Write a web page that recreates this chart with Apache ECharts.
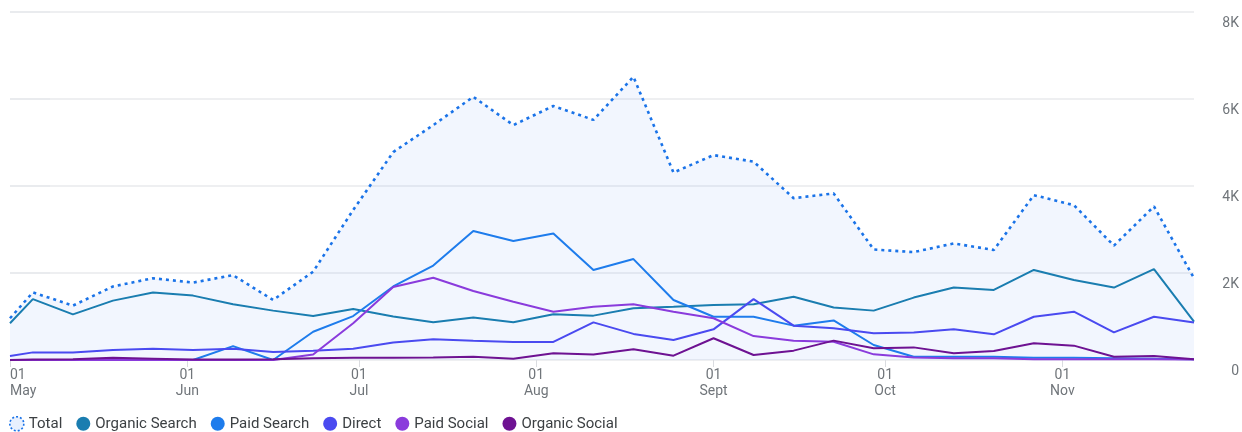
<!DOCTYPE html>
<html>
<head>
<meta charset="utf-8">
<script src="https://cdn.jsdelivr.net/npm/echarts@6/dist/echarts.min.js"></script>
<style>
  html, body { margin: 0; padding: 0; background: #fff; }
  #chart { width: 1242px; height: 432px; }
</style>
</head>
<body>
<div id="chart"></div>
<script>
// weekly points (first one is a partial week)
const dates = [
  '2024-05-01', '2024-05-05', '2024-05-12', '2024-05-19', '2024-05-26',
  '2024-06-02', '2024-06-09', '2024-06-16', '2024-06-23', '2024-06-30',
  '2024-07-07', '2024-07-14', '2024-07-21', '2024-07-28', '2024-08-04',
  '2024-08-11', '2024-08-18', '2024-08-25', '2024-09-01', '2024-09-08',
  '2024-09-15', '2024-09-22', '2024-09-29', '2024-10-06', '2024-10-13',
  '2024-10-20', '2024-10-27', '2024-11-03', '2024-11-10', '2024-11-17',
  '2024-11-24'
];

const total = [
  960, 1555, 1250, 1690, 1880, 1780, 1950, 1380, 2030, 3450,
  4780, 5400, 6050, 5400, 5840, 5520, 6510, 4310, 4710, 4560,
  3720, 3830, 2540, 2480, 2680, 2530, 3790, 3560, 2630, 3530,
  1880
];
const organicSearch = [
  845, 1400, 1050, 1365, 1550, 1480, 1280, 1135, 1010, 1170,
  1000, 870, 975, 870, 1050, 1020, 1190, 1225, 1265, 1280,
  1455, 1205, 1135, 1435, 1665, 1610, 2070, 1840, 1665, 2090,
  880
];
const paidSearch = [
  0, 0, 0, 0, 0, 0, 320, 0, 650, 1010,
  1690, 2170, 2965, 2735, 2910, 2070, 2320, 1380, 995, 995,
  790, 910, 345, 75, 75, 75, 50, 50, 40, 30,
  20
];
const direct = [
  90, 175, 175, 230, 260, 230, 260, 185, 215, 260,
  400, 475, 440, 415, 415, 865, 600, 460, 705, 1400,
  790, 730, 615, 630, 705, 590, 995, 1110, 635, 995,
  860
];
const paidSocial = [
  0, 0, 0, 0, 0, 0, 0, 0, 125, 845,
  1680, 1890, 1585, 1340, 1110, 1225, 1280, 1110, 960, 550,
  440, 420, 130, 55, 40, 40, 20, 20, 15, 15,
  10
];
const organicSocial = [
  0, 10, 20, 50, 30, 10, 10, 20, 40, 50,
  50, 60, 75, 30, 155, 125, 245, 100, 500, 115,
  215, 445, 270, 290, 155, 205, 385, 330, 75, 90,
  15
];

const monthTicks = ['2024-05-01', '2024-06-01', '2024-07-01', '2024-08-01',
  '2024-09-01', '2024-10-01', '2024-11-01'];
const monthNames = ['Jan', 'Feb', 'Mar', 'Apr', 'May', 'Jun', 'Jul', 'Aug', 'Sept', 'Oct', 'Nov', 'Dec'];

const COLORS = {
  total: '#1a73e8',
  organicSearch: '#1a7db0',
  paidSearch: '#1e7cec',
  direct: '#4a4af0',
  paidSocial: '#8a3bdc',
  organicSocial: '#6e1292',
};

// x is "days since first date" on a plain value axis
const DAY = 86400000;
const start = Date.UTC(2024, 4, 1);
function dayOf(s) {
  const [y, m, d] = s.split('-').map(Number);
  return Math.round((Date.UTC(y, m - 1, d) - start) / DAY);
}
function monthLabel(day) {
  const d = new Date(start + day * DAY);
  return '01\n' + monthNames[d.getUTCMonth()];
}

const xs = dates.map(dayOf);
const tickValues = monthTicks.map(dayOf);
const pairs = (arr) => arr.map((v, i) => [xs[i], v]);

function lineSeries(name, data, color) {
  return {
    name,
    type: 'line',
    data: pairs(data),
    symbol: 'none',
    lineStyle: { color, width: 2 },
    itemStyle: { color },
  };
}

const chart = echarts.init(document.getElementById('chart'));

chart.setOption({
  animation: false,
  textStyle: { fontFamily: 'Roboto, "Noto Sans", sans-serif' },
  grid: { left: 10, right: 47, top: 12, bottom: 72 },
  legend: {
    left: 9,
    top: 416,
    padding: 0,
    icon: 'circle',
    itemWidth: 14,
    itemHeight: 14,
    itemGap: 14,
    textStyle: { color: '#3c4043', fontSize: 15 },
    data: [
      {
        name: 'Total',
        itemStyle: { color: '#e8f0fe', borderColor: COLORS.total, borderWidth: 1.6, borderType: [2, 2] },
      },
      { name: 'Organic Search', itemStyle: { color: COLORS.organicSearch } },
      { name: 'Paid Search', itemStyle: { color: COLORS.paidSearch } },
      { name: 'Direct', itemStyle: { color: COLORS.direct } },
      { name: 'Paid Social', itemStyle: { color: COLORS.paidSocial } },
      { name: 'Organic Social', itemStyle: { color: COLORS.organicSocial } },
    ],
  },
  xAxis: {
    type: 'value',
    min: xs[0],
    max: xs[xs.length - 1],
    axisLine: { show: false },
    splitLine: { show: false },
    axisTick: {
      show: true,
      customValues: tickValues,
      length: 7,
      lineStyle: { color: '#dadce0' },
    },
    axisLabel: {
      customValues: tickValues,
      color: '#70757a',
      fontSize: 14,
      lineHeight: 16,
      margin: 7,
      alignMinLabel: 'left',
      formatter: (v) => monthLabel(v),
    },
  },
  yAxis: {
    type: 'value',
    position: 'right',
    min: 0,
    max: 8000,
    interval: 2000,
    offset: 5,
    axisLine: { show: false },
    axisTick: { show: true, length: 40, lineStyle: { color: '#e8eaed', width: 1.5 } },
    splitLine: { lineStyle: { color: '#e8eaed', width: 1.5 } },
    axisLabel: {
      color: '#70757a',
      fontSize: 14,
      align: 'right',
      verticalAlign: 'top',
      margin: 40,
      padding: [4, 0, 0, 0],
      formatter: (v) => (v === 0 ? '0' : v / 1000 + 'K'),
    },
  },
  series: [
    {
      name: 'Total',
      type: 'line',
      data: pairs(total),
      symbol: 'none',
      z: 1,
      lineStyle: { color: COLORS.total, width: 2.6, type: [3, 4] },
      itemStyle: { color: COLORS.total },
      areaStyle: { color: 'rgba(66,133,244,0.1)', origin: 'start' },
    },
    lineSeries('Organic Search', organicSearch, COLORS.organicSearch),
    lineSeries('Paid Search', paidSearch, COLORS.paidSearch),
    lineSeries('Direct', direct, COLORS.direct),
    lineSeries('Paid Social', paidSocial, COLORS.paidSocial),
    lineSeries('Organic Social', organicSocial, COLORS.organicSocial),
  ],
});
</script>
</body>
</html>
